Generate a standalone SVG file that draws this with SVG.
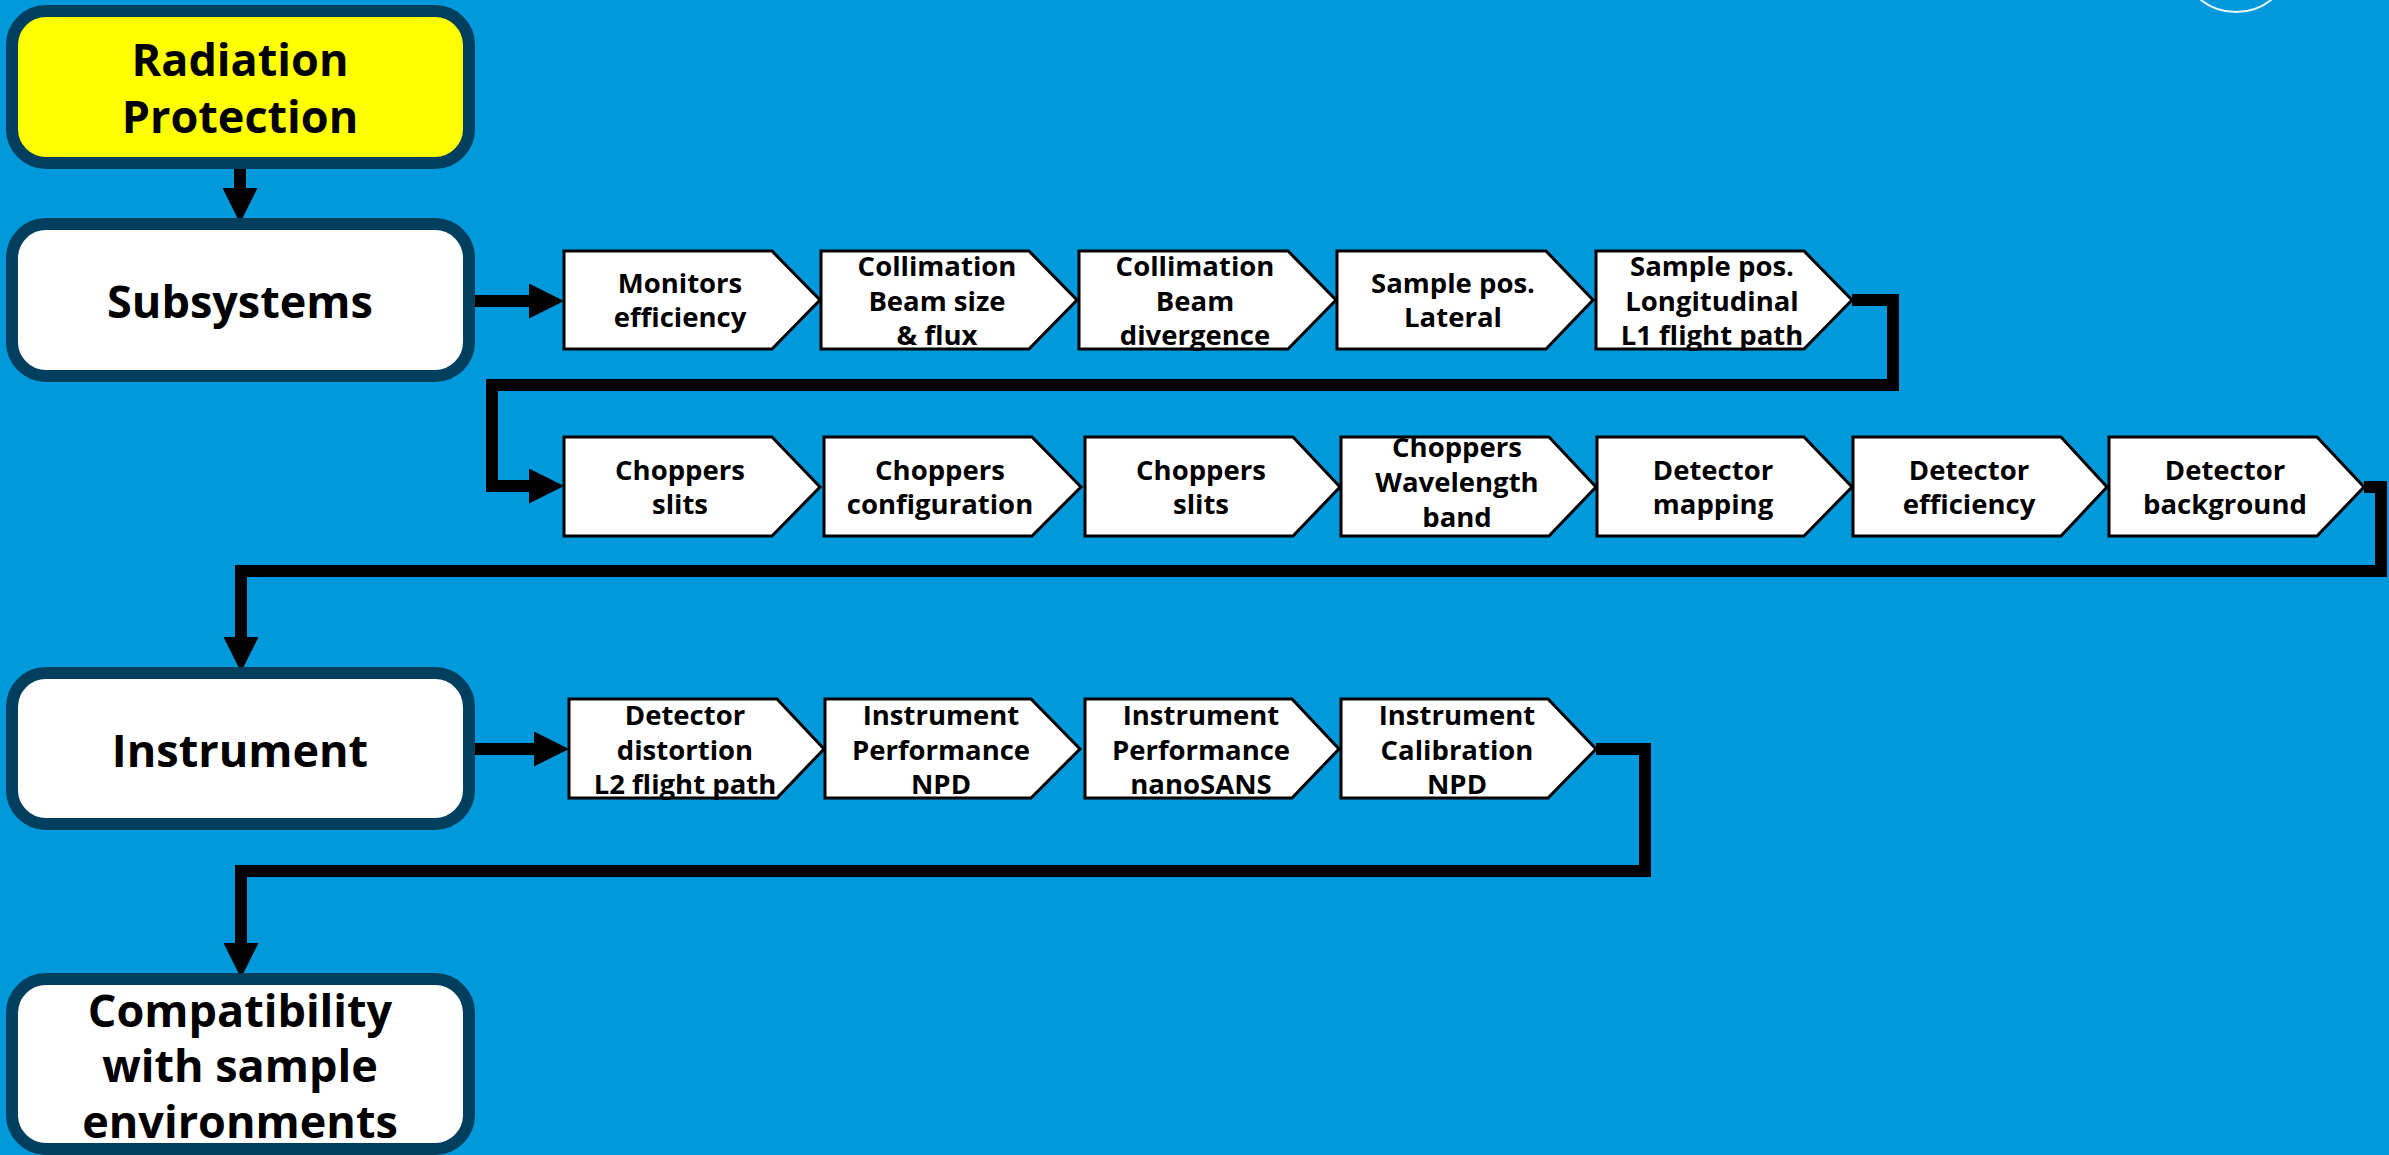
<svg xmlns="http://www.w3.org/2000/svg" width="2389" height="1155" viewBox="0 0 2389 1155">
<style>
.bg{fill:#0099DB}
.box{fill:#FFFFFF;stroke:#023E5E;stroke-width:12}
.yel{fill:#FFFF00}
.bt{font-family:"Open Sans","Noto Sans",sans-serif;font-weight:bold;font-size:45px;fill:#000;text-anchor:middle}
.chev{fill:#FFFFFF;stroke:#000;stroke-width:3;stroke-linejoin:miter}
.ct{font-family:"Open Sans","Noto Sans",sans-serif;font-weight:bold;font-size:27.5px;fill:#000;text-anchor:middle}
.con{fill:none;stroke:#000;stroke-width:12;stroke-linejoin:miter}
</style>
<defs>
<marker id="ah" markerUnits="userSpaceOnUse" markerWidth="35" markerHeight="35" refX="0" refY="17.5" orient="auto">
<path d="M0,0 L35,17.5 L0,35 Z" fill="#000"/>
</marker>
</defs>
<rect class="bg" x="0" y="0" width="2389" height="1155"/>
<circle cx="2236" cy="-45" r="57" fill="none" stroke="#E8F4FB" stroke-width="2"/>

<g id="connectors">
<path class="con" d="M240,168 V188" marker-end="url(#ah)"/>
<path class="con" d="M474,301 H529" marker-end="url(#ah)"/>
<path class="con" d="M1852,300 H1893 V385 H492 V486 H529" marker-end="url(#ah)"/>
<path class="con" d="M2364,487 H2381 V571 H241 V637" marker-end="url(#ah)"/>
<path class="con" d="M474,749 H534" marker-end="url(#ah)"/>
<path class="con" d="M1596,749 H1645 V871 H241 V943" marker-end="url(#ah)"/>
</g>

<g id="radiation-protection">
<rect class="box yel" x="12" y="11" width="457" height="152" rx="34"/>
<text class="bt" x="240" y="76">Radiation</text>
<text class="bt" x="240" y="133">Protection</text>
</g>
<g id="subsystems">
<rect class="box" x="12" y="224" width="457" height="152" rx="34"/>
<text class="bt" x="240" y="318">Subsystems</text>
</g>
<g id="instrument">
<rect class="box" x="12" y="673" width="457" height="151" rx="34"/>
<text class="bt" x="240" y="767">Instrument</text>
</g>
<g id="compatibility">
<rect class="box" x="12" y="979" width="457" height="170" rx="34"/>
<text class="bt" x="240" y="1027">Compatibility</text>
<text class="bt" x="240" y="1082">with sample</text>
<text class="bt" x="240" y="1138">environments</text>
</g>

<!-- Row 1 -->
<g id="monitors-efficiency">
<path class="chev" d="M564,251 H772 L820,300 L772,349 H564 Z"/>
<text class="ct" x="680" y="293">Monitors</text>
<text class="ct" x="680" y="327">efficiency</text>
</g>
<g id="collimation-beam-size">
<path class="chev" d="M821,251 H1029 L1077,300 L1029,349 H821 Z"/>
<text class="ct" x="937" y="276">Collimation</text>
<text class="ct" x="937" y="311">Beam size</text>
<text class="ct" x="937" y="345">&amp; flux</text>
</g>
<g id="collimation-divergence">
<path class="chev" d="M1079,251 H1288 L1336,300 L1288,349 H1079 Z"/>
<text class="ct" x="1195" y="276">Collimation</text>
<text class="ct" x="1195" y="311">Beam</text>
<text class="ct" x="1195" y="345">divergence</text>
</g>
<g id="sample-pos-lateral">
<path class="chev" d="M1337,251 H1546 L1593,300 L1546,349 H1337 Z"/>
<text class="ct" x="1453" y="293">Sample pos.</text>
<text class="ct" x="1453" y="327">Lateral</text>
</g>
<g id="sample-pos-longitudinal">
<path class="chev" d="M1596,251 H1804 L1852,300 L1804,349 H1596 Z"/>
<text class="ct" x="1712" y="276">Sample pos.</text>
<text class="ct" x="1712" y="311">Longitudinal</text>
<text class="ct" x="1712" y="345">L1 flight path</text>
</g>

<!-- Row 2 -->
<g id="choppers-slits-1">
<path class="chev" d="M564,437 H772 L820,487 L772,536 H564 Z"/>
<text class="ct" x="680" y="480">Choppers</text>
<text class="ct" x="680" y="514">slits</text>
</g>
<g id="choppers-configuration">
<path class="chev" d="M824,437 H1032 L1081,487 L1032,536 H824 Z"/>
<text class="ct" x="940" y="480">Choppers</text>
<text class="ct" x="940" y="514">configuration</text>
</g>
<g id="choppers-slits-2">
<path class="chev" d="M1085,437 H1293 L1340,487 L1293,536 H1085 Z"/>
<text class="ct" x="1201" y="480">Choppers</text>
<text class="ct" x="1201" y="514">slits</text>
</g>
<g id="choppers-wavelength">
<path class="chev" d="M1341,437 H1549 L1596,487 L1549,536 H1341 Z"/>
<text class="ct" x="1457" y="457">Choppers</text>
<text class="ct" x="1457" y="492">Wavelength</text>
<text class="ct" x="1457" y="527">band</text>
</g>
<g id="detector-mapping">
<path class="chev" d="M1597,437 H1804 L1852,487 L1804,536 H1597 Z"/>
<text class="ct" x="1713" y="480">Detector</text>
<text class="ct" x="1713" y="514">mapping</text>
</g>
<g id="detector-efficiency">
<path class="chev" d="M1853,437 H2061 L2107,487 L2061,536 H1853 Z"/>
<text class="ct" x="1969" y="480">Detector</text>
<text class="ct" x="1969" y="514">efficiency</text>
</g>
<g id="detector-background">
<path class="chev" d="M2109,437 H2317 L2364,487 L2317,536 H2109 Z"/>
<text class="ct" x="2225" y="480">Detector</text>
<text class="ct" x="2225" y="514">background</text>
</g>

<!-- Row 3 -->
<g id="detector-distortion">
<path class="chev" d="M569,699 H777 L824,749 L777,798 H569 Z"/>
<text class="ct" x="685" y="725">Detector</text>
<text class="ct" x="685" y="760">distortion</text>
<text class="ct" x="685" y="794">L2 flight path</text>
</g>
<g id="instrument-performance-npd">
<path class="chev" d="M825,699 H1031 L1080,749 L1031,798 H825 Z"/>
<text class="ct" x="941" y="725">Instrument</text>
<text class="ct" x="941" y="760">Performance</text>
<text class="ct" x="941" y="794">NPD</text>
</g>
<g id="instrument-performance-nanosans">
<path class="chev" d="M1085,699 H1292 L1339,749 L1292,798 H1085 Z"/>
<text class="ct" x="1201" y="725">Instrument</text>
<text class="ct" x="1201" y="760">Performance</text>
<text class="ct" x="1201" y="794">nanoSANS</text>
</g>
<g id="instrument-calibration-npd">
<path class="chev" d="M1341,699 H1548 L1596,749 L1548,798 H1341 Z"/>
<text class="ct" x="1457" y="725">Instrument</text>
<text class="ct" x="1457" y="760">Calibration</text>
<text class="ct" x="1457" y="794">NPD</text>
</g>
</svg>
